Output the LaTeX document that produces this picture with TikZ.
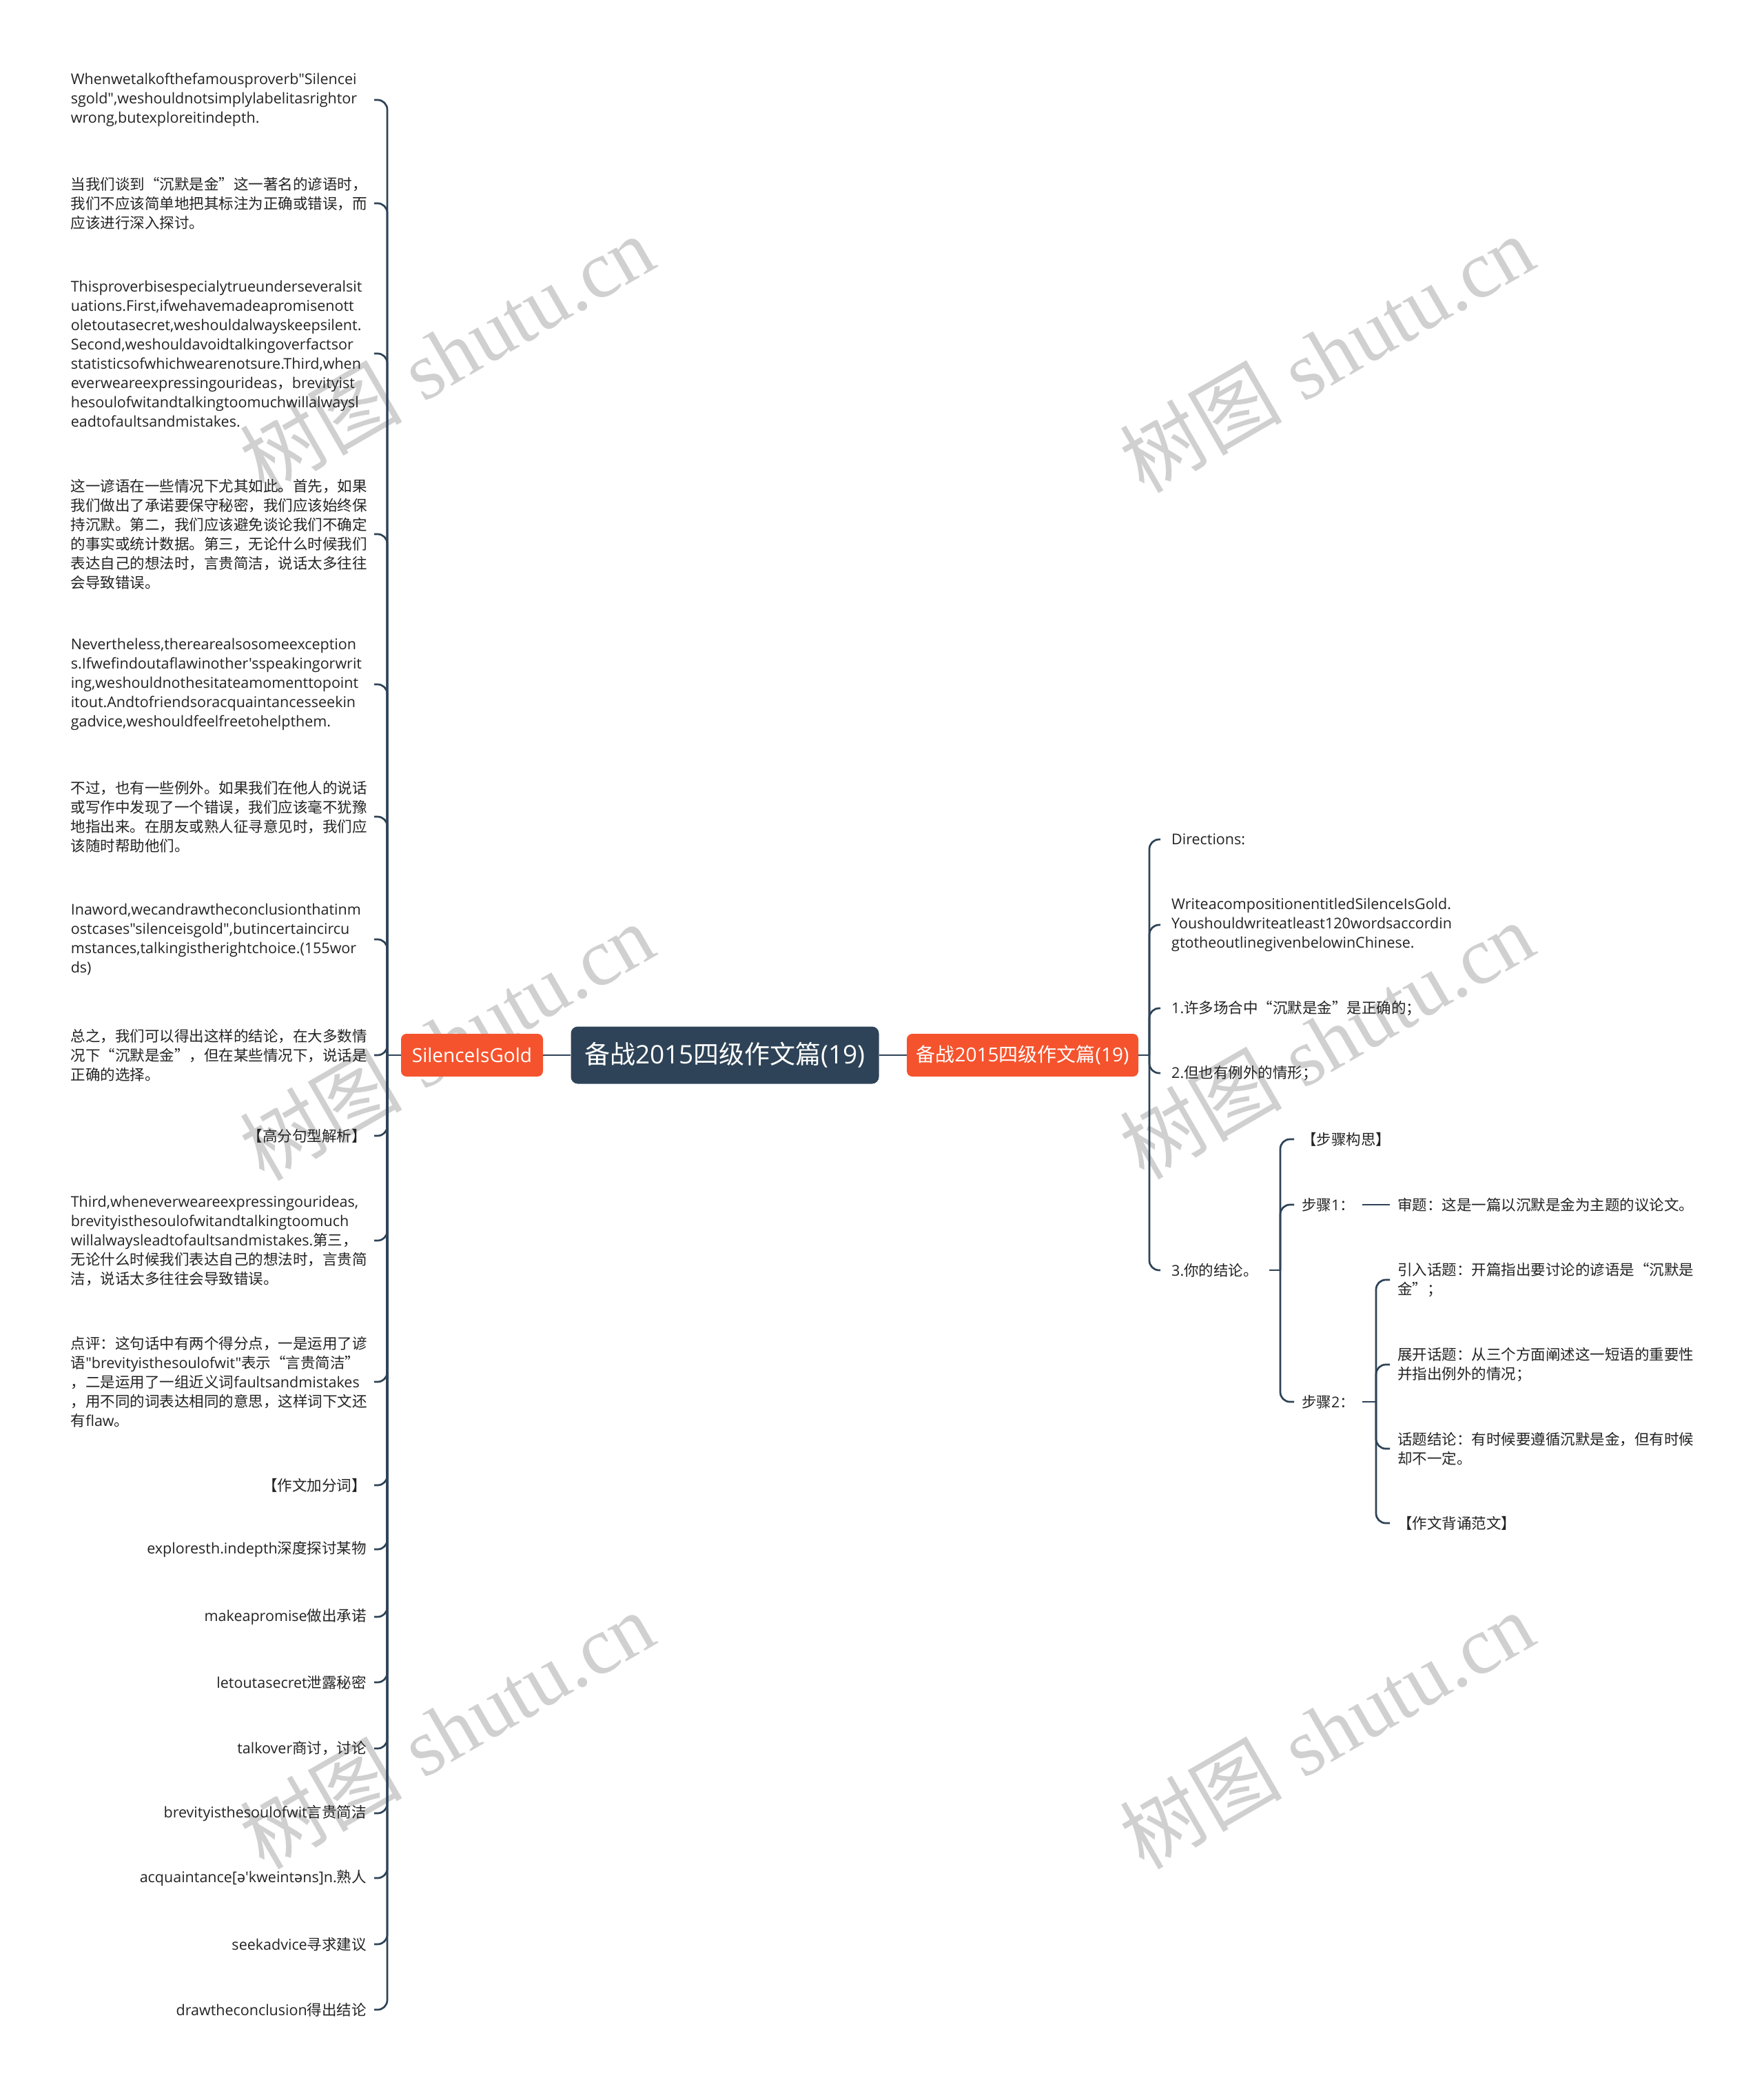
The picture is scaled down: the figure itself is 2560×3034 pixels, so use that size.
\documentclass[tikz,border=0pt]{standalone}
\usepackage{fontspec}
\setmainfont{Open Sans}[Ligatures=TeXOff]
\newfontfamily\latfont{Open Sans}[Ligatures=TeXOff]
\newfontfamily\cjkfont{Noto Sans CJK SC}
\newfontfamily\ipafont{Noto Sans}[Ligatures=TeXOff]
\newfontfamily\wmfont{Liberation Serif}
% automatic switch to the CJK font for CJK characters
\XeTeXinterchartokenstate=1
\newXeTeXintercharclass\cjkcls
\newcount\mycnt
\def\setcjkrange#1#2{\mycnt=#1\relax
  \loop\XeTeXcharclass\mycnt=\cjkcls
  \ifnum\mycnt<#2\relax\advance\mycnt by 1 \repeat}
\setcjkrange{"4E00}{"9FFF}
\setcjkrange{"3000}{"303F}
\setcjkrange{"FF00}{"FFEF}
\XeTeXcharclass"201C=\cjkcls
\XeTeXcharclass"201D=\cjkcls
\XeTeXinterchartoks 0 \cjkcls = {\cjkfont}
\XeTeXinterchartoks 4095 \cjkcls = {\cjkfont}
\XeTeXinterchartoks \cjkcls 0 = {\latfont}
\XeTeXinterchartoks \cjkcls 4095 = {\latfont}
\newcommand\leaffont{\fontsize{21.5}{28}\selectfont\hyphenpenalty=10000\exhyphenpenalty=10000 }
\definecolor{slate}{RGB}{46,67,87}
\definecolor{orng}{RGB}{245,83,45}
\definecolor{txt}{RGB}{35,35,35}
\definecolor{wm}{RGB}{208,208,208}
\tikzset{
  conn/.style={draw=slate, line width=2.7pt, rounded corners=14pt},
  plain/.style={draw=slate, line width=2.7pt},
  rootnode/.style={fill=slate, text=white, rounded corners=10pt, minimum width=447pt, minimum height=83pt, inner sep=0pt, font=\fontsize{37}{44}\selectfont},
  branch/.style={fill=orng, text=white, rounded corners=8pt, minimum height=62pt, inner sep=0pt, font=\fontsize{28}{34}\selectfont},
  lleaf/.style={anchor=east, inner xsep=11pt, inner ysep=2pt, text=txt, font=\leaffont},
  lmulti/.style={lleaf, text width=429pt, align=left},
  rleaf/.style={anchor=west, inner xsep=11pt, inner ysep=2pt, text=txt, font=\leaffont, align=left},
  rfirst/.style={rleaf, inner xsep=16pt},
  wmark/.style={text=wm, rotate=30, font=\fontsize{118}{130}\selectfont, inner sep=0pt},
}
\begin{document}
\begin{tikzpicture}[x=1pt,y=-1pt]
\fill[white] (0,0) rectangle (2560,3034);
\useasboundingbox (0,0) rectangle (2560,3034);
% watermarks
\node[wmark] (w1) at (648,513) {树图 {\wmfont shutu.cn}};
\node[wmark] (w2) at (1925,513) {树图 {\wmfont shutu.cn}};
\node[wmark] (w3) at (648,1511) {树图 {\wmfont shutu.cn}};
\node[wmark] (w4) at (1925,1509) {树图 {\wmfont shutu.cn}};
\node[wmark] (w5) at (648,2510) {树图 {\wmfont shutu.cn}};
\node[wmark] (w6) at (1925,2510) {树图 {\wmfont shutu.cn}};
% main nodes
\node[rootnode] (root) at (1052,1531) {备战2015四级作文篇(19)};
\node[branch, minimum width=206pt] (sig) at (685,1531) {SilenceIsGold};
\node[branch, minimum width=336pt] (rb) at (1484,1531) {备战2015四级作文篇(19)};
% left leaves
\node[lmulti] (L1) at (543,145) {Whenwetalkofthefamousproverb"Silencei\\sgold",weshouldnotsimplylabelitasrightor\\wrong,butexploreitindepth.};
\node[lmulti] (L2) at (543,295) {当我们谈到“沉默是金”这一著名的谚语时，\\我们不应该简单地把其标注为正确或错误，而\\应该进行深入探讨。};
\node[lmulti] (L3) at (543,513) {Thisproverbisespecialytrueunderseveralsit\\uations.First,ifwehavemadeapromisenott\\oletoutasecret,weshouldalwayskeepsilent.\\Second,weshouldavoidtalkingoverfactsor\\statisticsofwhichwearenotsure.Third,when\\everweareexpressingourideas，brevityist\\hesoulofwitandtalkingtoomuchwillalwaysl\\eadtofaultsandmistakes.};
\node[lmulti] (L4) at (543,775) {这一谚语在一些情况下尤其如此。首先，如果\\我们做出了承诺要保守秘密，我们应该始终保\\持沉默。第二，我们应该避免谈论我们不确定\\的事实或统计数据。第三，无论什么时候我们\\表达自己的想法时，言贵简洁，说话太多往往\\会导致错误。};
\node[lmulti] (L5) at (543,993) {Nevertheless,therearealsosomeexception\\s.Ifwefindoutaflawinother'sspeakingorwrit\\ing,weshouldnothesitateamomenttopoint\\itout.Andtofriendsoracquaintancesseekin\\gadvice,weshouldfeelfreetohelpthem.};
\node[lmulti] (L6) at (543,1185) {不过，也有一些例外。如果我们在他人的说话\\或写作中发现了一个错误，我们应该毫不犹豫\\地指出来。在朋友或熟人征寻意见时，我们应\\该随时帮助他们。};
\node[lmulti] (L7) at (543,1363) {Inaword,wecandrawtheconclusionthatinm\\ostcases"silenceisgold",butincertaincircu\\mstances,talkingistherightchoice.(155wor\\ds)};
\node[lmulti] (L8) at (543,1531) {总之，我们可以得出这样的结论，在大多数情\\况下“沉默是金”，但在某些情况下，说话是\\正确的选择。};
\node[lleaf] (L9) at (543,1648) {【高分句型解析】};
\node[lmulti] (L10) at (543,1800) {Third,wheneverweareexpressingourideas,\\brevityisthesoulofwitandtalkingtoomuch\\willalwaysleadtofaultsandmistakes.第三，\\无论什么时候我们表达自己的想法时，言贵简\\洁，说话太多往往会导致错误。};
\node[lmulti] (L11) at (543,2005) {点评：这句话中有两个得分点，一是运用了谚\\语"brevityisthesoulofwit"表示“言贵简洁”\\，二是运用了一组近义词faultsandmistakes\\，用不同的词表达相同的意思，这样词下文还\\有flaw。};
\node[lleaf] (L12) at (543,2155) {【作文加分词】};
\node[lleaf] (L13) at (543,2248) {exploresth.indepth深度探讨某物};
\node[lleaf] (L14) at (543,2346) {makeapromise做出承诺};
\node[lleaf] (L15) at (543,2441) {letoutasecret泄露秘密};
\node[lleaf] (L16) at (543,2537) {talkover商讨，讨论};
\node[lleaf] (L17) at (543,2631) {brevityisthesoulofwit言贵简洁};
\node[lleaf] (L18) at (543,2725) {acquaintance[{\ipafont ə}'kweint{\ipafont ə}ns]n.熟人};
\node[lleaf] (L19) at (543,2821) {seekadvice寻求建议};
\node[lleaf] (L20) at (543,2916) {drawtheconclusion得出结论};
% right leaves
\node[rfirst] (dir) at (1684,1218) {Directions:};
\node[rfirst] (wr) at (1684,1342) {WriteacompositionentitledSilenceIsGold.\\Youshouldwriteatleast120wordsaccordin\\gtotheoutlinegivenbelowinChinese.};
\node[rfirst] (p1) at (1684,1463) {1.许多场合中“沉默是金”是正确的；};
\node[rfirst] (p2) at (1684,1557) {2.但也有例外的情形；};
\node[rfirst] (p3) at (1684,1843) {3.你的结论。};
\node[rleaf] (s0) at (1878,1653) {【步骤构思】};
\node[rleaf] (bz1) at (1878,1748) {步骤1：};
\node[rleaf] (bz2) at (1878,2034) {步骤2：};
\node[rleaf] (sh) at (2017,1748) {审题：这是一篇以沉默是金为主题的议论文。};
\node[rleaf] (t1) at (2017,1857) {引入话题：开篇指出要讨论的谚语是“沉默是\\金”；};
\node[rleaf] (t2) at (2017,1980) {展开话题：从三个方面阐述这一短语的重要性\\并指出例外的情况；};
\node[rleaf] (t3) at (2017,2102) {话题结论：有时候要遵循沉默是金，但有时候\\却不一定。};
\node[rleaf] (t4) at (2017,2210) {【作文背诵范文】};
% junctions
\coordinate (jl) at (562,1531);
\coordinate (jr) at (1668,1531);
\coordinate (j3) at (1858,1843);
\coordinate (j2) at (1997,2034);
% connectors
\draw[plain] (root.west) -- (sig.east);
\draw[plain] (root.east) -- (rb.west);
\draw[plain] (sig.west) -- (jl);
\foreach \n in {1,...,20} \draw[conn] (jl) |- (L\n.east);
\draw[plain] (rb.east) -- (jr);
\foreach \n in {dir,wr,p1,p2,p3} \draw[conn] (jr) |- (\n.west);
\draw[plain] (p3.east) -- (j3);
\foreach \n in {s0,bz1,bz2} \draw[conn] (j3) |- (\n.west);
\draw[plain] (bz1.east) -- (sh.west);
\draw[plain] (bz2.east) -- (j2);
\foreach \n in {t1,t2,t3,t4} \draw[conn] (j2) |- (\n.west);
\end{tikzpicture}
\end{document}
